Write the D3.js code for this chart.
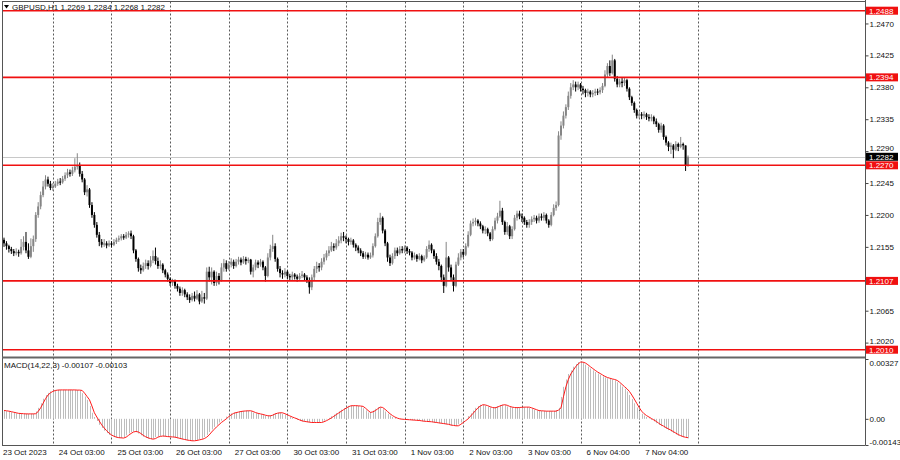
<!DOCTYPE html>
<html><head><meta charset="utf-8">
<script src="https://cdn.jsdelivr.net/npm/d3@7"></script>
<style>
body{margin:0;background:#fff}
svg{display:block}
</style>
</head><body><svg id="c" width="900" height="460"></svg>
<script>
// ---------------- data ----------------
const symbolName = "GBPUSD,H1";
const lastQuote = ["1.2269", "1.2284", "1.2268", "1.2282"];
const macdTitle = "MACD(14,22,3) -0.00107 -0.00103";
const firstOpen = 1.2165;
const closes = [
1.2160,1.2156,1.2152,1.2149,1.2146,1.2148,1.2146,1.2155,1.2162,1.2150,
1.2141,1.2156,1.2166,1.2200,1.2212,1.2228,1.2240,1.2250,1.2244,1.2238,
1.2240,1.2244,1.2247,1.2246,1.2251,1.2256,1.2260,1.2258,1.2263,1.2268,
1.2270,1.2258,1.2250,1.2232,1.2236,1.2214,1.2200,1.2186,1.2172,1.2162,
1.2158,1.2160,1.2157,1.2160,1.2158,1.2162,1.2165,1.2167,1.2170,1.2168,
1.2172,1.2174,1.2170,1.2150,1.2138,1.2125,1.2122,1.2128,1.2132,1.2128,
1.2136,1.2142,1.2135,1.2128,1.2130,1.2122,1.2116,1.2110,1.2104,1.2107,
1.2100,1.2096,1.2090,1.2094,1.2088,1.2084,1.2080,1.2086,1.2082,1.2088,
1.2078,1.2084,1.2082,1.2120,1.2112,1.2120,1.2104,1.2114,1.2108,1.2126,
1.2132,1.2124,1.2130,1.2134,1.2128,1.2134,1.2137,1.2133,1.2138,1.2135,
1.2137,1.2120,1.2126,1.2133,1.2130,1.2134,1.2126,1.2114,1.2140,1.2152,
1.2156,1.2138,1.2124,1.2118,1.2116,1.2120,1.2114,1.2112,1.2116,1.2113,
1.2110,1.2114,1.2116,1.2112,1.2108,1.2098,1.2112,1.2124,1.2128,1.2126,
1.2134,1.2140,1.2146,1.2150,1.2156,1.2154,1.2160,1.2164,1.2170,1.2168,
1.2166,1.2162,1.2164,1.2158,1.2154,1.2150,1.2146,1.2141,1.2144,1.2140,
1.2143,1.2156,1.2170,1.2190,1.2196,1.2178,1.2160,1.2140,1.2132,1.2142,
1.2150,1.2146,1.2152,1.2150,1.2154,1.2149,1.2147,1.2140,1.2143,1.2138,
1.2142,1.2136,1.2140,1.2152,1.2158,1.2150,1.2142,1.2134,1.2128,1.2112,
1.2100,1.2140,1.2126,1.2112,1.2100,1.2130,1.2140,1.2148,1.2144,1.2156,
1.2172,1.2188,1.2190,1.2192,1.2188,1.2184,1.2178,1.2180,1.2174,1.2166,
1.2180,1.2192,1.2198,1.2206,1.2190,1.2176,1.2184,1.2170,1.2180,1.2196,
1.2202,1.2198,1.2196,1.2190,1.2186,1.2190,1.2194,1.2196,1.2192,1.2198,
1.2196,1.2200,1.2192,1.2186,1.2200,1.2210,1.2214,1.2312,1.2326,1.2340,
1.2352,1.2368,1.2380,1.2384,1.2380,1.2384,1.2378,1.2376,1.2372,1.2374,
1.2370,1.2372,1.2374,1.2373,1.2376,1.2382,1.2398,1.2410,1.2400,1.2418,
1.2392,1.2384,1.2388,1.2386,1.2390,1.2378,1.2366,1.2358,1.2348,1.2340,
1.2342,1.2340,1.2342,1.2338,1.2336,1.2338,1.2332,1.2328,1.2320,1.2326,
1.2310,1.2302,1.2296,1.2298,1.2292,1.2300,1.2296,1.2300,1.2298,1.2269,
1.2282];
const highs = [
1.2168,1.2163,1.2158,1.2155,1.2152,1.2153,1.2151,1.2166,1.2170,1.2176,
1.2160,1.2167,1.2171,1.2204,1.2218,1.2233,1.2248,1.2256,1.2254,1.2248,
1.2245,1.2248,1.2251,1.2252,1.2255,1.2260,1.2265,1.2264,1.2268,1.2280,
1.2287,1.2274,1.2262,1.2252,1.2242,1.2238,1.2218,1.2204,1.2190,1.2176,
1.2166,1.2166,1.2163,1.2164,1.2163,1.2166,1.2168,1.2171,1.2173,1.2173,
1.2176,1.2177,1.2178,1.2172,1.2152,1.2140,1.2130,1.2133,1.2137,1.2136,
1.2142,1.2150,1.2154,1.2140,1.2136,1.2132,1.2124,1.2119,1.2112,1.2110,
1.2109,1.2103,1.2099,1.2098,1.2096,1.2091,1.2088,1.2090,1.2092,1.2094,
1.2090,1.2093,1.2090,1.2126,1.2127,1.2126,1.2122,1.2120,1.2118,1.2132,
1.2138,1.2136,1.2135,1.2139,1.2137,1.2138,1.2141,1.2140,1.2142,1.2141,
1.2140,1.2138,1.2130,1.2137,1.2136,1.2138,1.2136,1.2128,1.2146,1.2158,
1.2172,1.2160,1.2140,1.2128,1.2122,1.2125,1.2122,1.2117,1.2120,1.2118,
1.2116,1.2118,1.2121,1.2118,1.2115,1.2112,1.2116,1.2128,1.2134,1.2132,
1.2139,1.2145,1.2150,1.2156,1.2162,1.2160,1.2166,1.2170,1.2175,1.2176,
1.2171,1.2168,1.2168,1.2166,1.2160,1.2157,1.2153,1.2149,1.2148,1.2147,
1.2147,1.2160,1.2174,1.2196,1.2203,1.2198,1.2180,1.2162,1.2144,1.2146,
1.2154,1.2154,1.2156,1.2156,1.2157,1.2156,1.2152,1.2149,1.2147,1.2145,
1.2146,1.2144,1.2143,1.2156,1.2164,1.2160,1.2152,1.2146,1.2138,1.2130,
1.2116,1.2162,1.2142,1.2130,1.2116,1.2134,1.2146,1.2152,1.2152,1.2160,
1.2177,1.2192,1.2195,1.2196,1.2194,1.2191,1.2186,1.2184,1.2182,1.2176,
1.2184,1.2196,1.2203,1.2220,1.2210,1.2192,1.2190,1.2186,1.2184,1.2200,
1.2206,1.2206,1.2202,1.2198,1.2193,1.2194,1.2198,1.2200,1.2199,1.2202,
1.2202,1.2204,1.2202,1.2194,1.2204,1.2215,1.2219,1.2318,1.2332,1.2346,
1.2356,1.2374,1.2386,1.2390,1.2388,1.2388,1.2386,1.2382,1.2378,1.2378,
1.2376,1.2376,1.2378,1.2378,1.2380,1.2386,1.2404,1.2414,1.2418,1.2426,
1.2420,1.2396,1.2392,1.2393,1.2394,1.2392,1.2380,1.2368,1.2360,1.2350,
1.2346,1.2345,1.2346,1.2344,1.2342,1.2342,1.2340,1.2336,1.2330,1.2330,
1.2328,1.2312,1.2304,1.2302,1.2300,1.2304,1.2302,1.2310,1.2302,1.2298,
1.2284];
const lows = [
1.2155,1.2151,1.2147,1.2145,1.2142,1.2143,1.2141,1.2144,1.2150,1.2146,
1.2138,1.2139,1.2148,1.2162,1.2196,1.2208,1.2225,1.2236,1.2240,1.2235,
1.2234,1.2238,1.2241,1.2242,1.2244,1.2248,1.2252,1.2254,1.2255,1.2260,
1.2264,1.2254,1.2246,1.2228,1.2226,1.2210,1.2196,1.2182,1.2168,1.2156,
1.2154,1.2155,1.2153,1.2155,1.2154,1.2156,1.2159,1.2162,1.2164,1.2165,
1.2166,1.2168,1.2166,1.2146,1.2134,1.2120,1.2117,1.2120,1.2124,1.2123,
1.2126,1.2132,1.2130,1.2124,1.2124,1.2118,1.2112,1.2106,1.2100,1.2100,
1.2096,1.2092,1.2086,1.2086,1.2084,1.2080,1.2076,1.2078,1.2078,1.2080,
1.2074,1.2076,1.2075,1.2080,1.2106,1.2102,1.2100,1.2100,1.2102,1.2106,
1.2120,1.2120,1.2122,1.2126,1.2124,1.2126,1.2130,1.2129,1.2131,1.2130,
1.2132,1.2116,1.2112,1.2122,1.2125,1.2127,1.2122,1.2106,1.2112,1.2136,
1.2148,1.2134,1.2120,1.2112,1.2110,1.2112,1.2110,1.2107,1.2108,1.2109,
1.2106,1.2108,1.2111,1.2108,1.2104,1.2089,1.2094,1.2108,1.2118,1.2120,
1.2122,1.2130,1.2136,1.2142,1.2148,1.2149,1.2151,1.2156,1.2160,1.2163,
1.2160,1.2157,1.2158,1.2154,1.2149,1.2146,1.2142,1.2138,1.2138,1.2137,
1.2138,1.2140,1.2154,1.2168,1.2186,1.2174,1.2156,1.2134,1.2128,1.2130,
1.2138,1.2142,1.2144,1.2146,1.2146,1.2145,1.2143,1.2136,1.2137,1.2134,
1.2136,1.2132,1.2134,1.2138,1.2148,1.2146,1.2138,1.2130,1.2122,1.2106,
1.2090,1.2098,1.2120,1.2108,1.2092,1.2098,1.2128,1.2136,1.2140,1.2142,
1.2154,1.2170,1.2184,1.2185,1.2184,1.2180,1.2174,1.2173,1.2170,1.2163,
1.2164,1.2178,1.2188,1.2196,1.2186,1.2172,1.2172,1.2166,1.2166,1.2178,
1.2192,1.2194,1.2190,1.2186,1.2182,1.2182,1.2186,1.2190,1.2188,1.2189,
1.2192,1.2192,1.2188,1.2182,1.2184,1.2198,1.2206,1.2212,1.2306,1.2322,
1.2336,1.2348,1.2364,1.2376,1.2374,1.2376,1.2374,1.2370,1.2366,1.2367,
1.2366,1.2366,1.2368,1.2369,1.2370,1.2372,1.2380,1.2394,1.2396,1.2398,
1.2388,1.2380,1.2380,1.2380,1.2382,1.2374,1.2362,1.2354,1.2344,1.2336,
1.2336,1.2335,1.2336,1.2334,1.2332,1.2332,1.2328,1.2324,1.2316,1.2316,
1.2306,1.2298,1.2290,1.2286,1.2280,1.2290,1.2290,1.2294,1.2292,1.2262,
1.2268];
const macdMain = [
0.00044,0.00042,0.00039,0.00036,0.00033,0.00030,0.00029,0.00028,0.00027,0.00027,
0.00027,0.00027,0.00028,0.00040,0.00060,0.00085,0.00110,0.00130,0.00142,0.00150,
0.00155,0.00157,0.00158,0.00158,0.00158,0.00158,0.00158,0.00158,0.00158,0.00157,
0.00157,0.00155,0.00140,0.00122,0.00104,0.00070,0.00033,0.00010,-0.00012,-0.00033,
-0.00050,-0.00065,-0.00078,-0.00088,-0.00095,-0.00100,-0.00103,-0.00104,-0.00105,-0.00100,
-0.00090,-0.00080,-0.00072,-0.00069,-0.00072,-0.00080,-0.00090,-0.00098,-0.00104,-0.00108,
-0.00111,-0.00108,-0.00100,-0.00096,-0.00094,-0.00095,-0.00097,-0.00098,-0.00099,-0.00100,
-0.00103,-0.00107,-0.00110,-0.00113,-0.00116,-0.00118,-0.00120,-0.00120,-0.00118,-0.00115,
-0.00112,-0.00108,-0.00100,-0.00088,-0.00072,-0.00058,-0.00044,-0.00032,-0.00020,-0.00010,
0.00000,0.00012,0.00022,0.00030,0.00034,0.00037,0.00040,0.00042,0.00043,0.00044,
0.00044,0.00040,0.00034,0.00030,0.00027,0.00024,0.00020,0.00017,0.00016,0.00020,
0.00027,0.00031,0.00033,0.00033,0.00028,0.00022,0.00016,0.00010,0.00005,0.00000,
-0.00006,-0.00011,-0.00014,-0.00016,-0.00018,-0.00020,-0.00020,-0.00020,-0.00020,-0.00020,
-0.00016,-0.00010,-0.00003,0.00005,0.00014,0.00023,0.00032,0.00041,0.00050,0.00058,
0.00066,0.00071,0.00072,0.00072,0.00071,0.00070,0.00068,0.00058,0.00046,0.00035,
0.00038,0.00045,0.00055,0.00064,0.00062,0.00052,0.00040,0.00028,0.00018,0.00010,
0.00004,0.00000,-0.00002,-0.00003,-0.00004,-0.00005,-0.00006,-0.00007,-0.00008,-0.00009,
-0.00011,-0.00013,-0.00014,-0.00015,-0.00016,-0.00018,-0.00020,-0.00022,-0.00024,-0.00026,
-0.00028,-0.00030,-0.00034,-0.00036,-0.00038,-0.00038,-0.00030,-0.00020,-0.00010,0.00000,
0.00015,0.00030,0.00045,0.00060,0.00070,0.00077,0.00076,0.00072,0.00066,0.00062,
0.00060,0.00064,0.00070,0.00075,0.00077,0.00074,0.00068,0.00064,0.00062,0.00061,
0.00062,0.00063,0.00064,0.00064,0.00064,0.00060,0.00055,0.00050,0.00045,0.00044,
0.00043,0.00042,0.00042,0.00042,0.00042,0.00042,0.00048,0.00060,0.00120,0.00175,
0.00215,0.00245,0.00265,0.00285,0.00300,0.00310,0.00310,0.00305,0.00296,0.00285,
0.00275,0.00265,0.00256,0.00248,0.00240,0.00232,0.00226,0.00222,0.00218,0.00215,
0.00210,0.00200,0.00188,0.00176,0.00164,0.00150,0.00130,0.00108,0.00085,0.00062,
0.00042,0.00028,0.00018,0.00010,0.00002,-0.00006,-0.00014,-0.00024,-0.00033,-0.00040,
-0.00048,-0.00055,-0.00062,-0.00070,-0.00078,-0.00086,-0.00092,-0.00097,-0.00101,-0.00104,
-0.00107];
const macdSignal = [
0.00046,0.00044,0.00042,0.00039,0.00036,0.00033,0.00030,0.00029,0.00028,0.00027,
0.00027,0.00027,0.00027,0.00028,0.00040,0.00060,0.00085,0.00110,0.00130,0.00142,
0.00150,0.00155,0.00157,0.00158,0.00158,0.00158,0.00158,0.00158,0.00158,0.00158,
0.00157,0.00157,0.00155,0.00140,0.00122,0.00104,0.00070,0.00033,0.00010,-0.00012,
-0.00033,-0.00050,-0.00065,-0.00078,-0.00088,-0.00095,-0.00100,-0.00103,-0.00104,-0.00105,
-0.00100,-0.00090,-0.00080,-0.00072,-0.00069,-0.00072,-0.00080,-0.00090,-0.00098,-0.00104,
-0.00108,-0.00111,-0.00108,-0.00100,-0.00096,-0.00094,-0.00095,-0.00097,-0.00098,-0.00099,
-0.00100,-0.00103,-0.00107,-0.00110,-0.00113,-0.00116,-0.00118,-0.00120,-0.00120,-0.00118,
-0.00115,-0.00112,-0.00108,-0.00100,-0.00088,-0.00072,-0.00058,-0.00044,-0.00032,-0.00020,
-0.00010,0.00000,0.00012,0.00022,0.00030,0.00034,0.00037,0.00040,0.00042,0.00043,
0.00044,0.00044,0.00040,0.00034,0.00030,0.00027,0.00024,0.00020,0.00017,0.00016,
0.00020,0.00027,0.00031,0.00033,0.00033,0.00028,0.00022,0.00016,0.00010,0.00005,
0.00000,-0.00006,-0.00011,-0.00014,-0.00016,-0.00018,-0.00020,-0.00020,-0.00020,-0.00020,
-0.00020,-0.00016,-0.00010,-0.00003,0.00005,0.00014,0.00023,0.00032,0.00041,0.00050,
0.00058,0.00066,0.00071,0.00072,0.00072,0.00071,0.00070,0.00068,0.00058,0.00046,
0.00035,0.00038,0.00045,0.00055,0.00064,0.00062,0.00052,0.00040,0.00028,0.00018,
0.00010,0.00004,0.00000,-0.00002,-0.00003,-0.00004,-0.00005,-0.00006,-0.00007,-0.00008,
-0.00009,-0.00011,-0.00013,-0.00014,-0.00015,-0.00016,-0.00018,-0.00020,-0.00022,-0.00024,
-0.00026,-0.00028,-0.00030,-0.00034,-0.00036,-0.00038,-0.00038,-0.00030,-0.00020,-0.00010,
0.00000,0.00015,0.00030,0.00045,0.00060,0.00070,0.00077,0.00076,0.00072,0.00066,
0.00062,0.00060,0.00064,0.00070,0.00075,0.00077,0.00074,0.00068,0.00064,0.00062,
0.00061,0.00062,0.00063,0.00064,0.00064,0.00064,0.00060,0.00055,0.00050,0.00045,
0.00044,0.00043,0.00042,0.00042,0.00042,0.00042,0.00042,0.00048,0.00060,0.00120,
0.00175,0.00215,0.00245,0.00265,0.00285,0.00300,0.00310,0.00310,0.00305,0.00296,
0.00285,0.00275,0.00265,0.00256,0.00248,0.00240,0.00232,0.00226,0.00222,0.00218,
0.00215,0.00210,0.00200,0.00188,0.00176,0.00164,0.00150,0.00130,0.00108,0.00085,
0.00062,0.00042,0.00028,0.00018,0.00010,0.00002,-0.00006,-0.00014,-0.00024,-0.00033,
-0.00040,-0.00048,-0.00055,-0.00062,-0.00070,-0.00078,-0.00086,-0.00092,-0.00097,-0.00101,
-0.00103];
const levelPrices = [1.2488, 1.2394, 1.2270, 1.2107, 1.2010];
const bidPrice = 1.2282;
const priceTicks = [1.2470, 1.2425, 1.2380, 1.2335, 1.2290, 1.2245, 1.2200, 1.2155, 1.2110, 1.2065, 1.2020];
const gridBars = [20, 44, 68, 92, 116, 140, 164, 188, 212, 236, 260, 284];
const timeLabels = ["23 Oct 2023", "24 Oct 03:00", "25 Oct 03:00", "26 Oct 03:00", "27 Oct 03:00",
  "30 Oct 03:00", "31 Oct 03:00", "1 Nov 03:00", "2 Nov 03:00", "3 Nov 03:00", "6 Nov 04:00", "7 Nov 04:00"];
const macdTicks = [0.00327, 0, -0.00143];
const macdTickLabels = ["0.00327", "0.00", "-0.00143"];

// ---------------- layout ----------------
const FONT = "'Liberation Sans', Arial, sans-serif";
const L = 2, R = 865, TOP = 1.5, MAIN_B = 356, SUB_T = 359, SUB_B = 445;
const TAG_H = 8;
const svg = d3.select("#c");

const x = d3.scaleLinear().domain([0, 284]).range([4, 697.8]);
const y = d3.scaleLinear().domain([1.2010, 1.2488]).range([349.7, 10.7]);
const ym = d3.scaleLinear().domain([macdTicks[2], macdTicks[0]]).range([SUB_B, SUB_T]);

svg.append("rect").attr("width", 900).attr("height", 460).attr("fill", "#fff");

const defs = svg.append("defs");
defs.append("clipPath").attr("id", "cm").append("rect")
  .attr("x", L).attr("y", TOP).attr("width", R - L).attr("height", MAIN_B - TOP);
defs.append("clipPath").attr("id", "cs").append("rect")
  .attr("x", L).attr("y", SUB_T).attr("width", R - L).attr("height", SUB_B - SUB_T);

// vertical grid
svg.append("g").selectAll("line").data(gridBars).join("line")
  .attr("x1", d => Math.round(x(d)) + 0.5).attr("x2", d => Math.round(x(d)) + 0.5)
  .attr("y1", TOP).attr("y2", SUB_B)
  .attr("stroke", "#5a5a5a").attr("stroke-width", 1).attr("stroke-dasharray", "2,2");

// main pane
const main = svg.append("g").attr("clip-path", "url(#cm)");
main.append("line").attr("x1", L).attr("x2", R)
  .attr("y1", Math.round(y(bidPrice)) + 0.5).attr("y2", Math.round(y(bidPrice)) + 0.5)
  .attr("stroke", "#c8c8c8").attr("stroke-width", 1);

const bars = closes.map((c, i) => {
  const o = i === 0 ? firstOpen : closes[i - 1];
  return {i, o, c, h: Math.max(highs[i], o, c), l: Math.min(lows[i], o, c)};
});
const colorOf = d => d.c >= d.o ? "#858585" : "#000";
main.append("g").selectAll("line").data(bars).join("line")
  .attr("x1", d => x(d.i)).attr("x2", d => x(d.i))
  .attr("y1", d => y(d.h)).attr("y2", d => y(d.l))
  .attr("stroke", colorOf).attr("stroke-width", 1);
main.append("g").selectAll("rect").data(bars).join("rect")
  .attr("x", d => x(d.i) - 1).attr("width", 2)
  .attr("y", d => y(Math.max(d.o, d.c)))
  .attr("height", d => Math.max(1, Math.abs(y(d.o) - y(d.c))))
  .attr("fill", colorOf);

// levels
main.append("g").selectAll("line").data(levelPrices).join("line")
  .attr("x1", L).attr("x2", R).attr("y1", d => y(d)).attr("y2", d => y(d))
  .attr("stroke", "#f01010").attr("stroke-width", 1.6);

// MACD pane
const sub = svg.append("g").attr("clip-path", "url(#cs)");
sub.append("g").selectAll("line").data(macdMain).join("line")
  .attr("x1", (d, i) => Math.round(x(i)) + 0.5).attr("x2", (d, i) => Math.round(x(i)) + 0.5)
  .attr("y1", ym(0)).attr("y2", d => ym(d))
  .attr("stroke", "#bdbdbd").attr("stroke-width", 1);
sub.append("path").datum(macdSignal)
  .attr("d", d3.line().x((d, i) => x(i)).y(d => ym(d)))
  .attr("fill", "none").attr("stroke", "#ff1a1a").attr("stroke-width", 1);

// frame
const frame = svg.append("g").attr("stroke", "#555").attr("fill", "none");
frame.append("line").attr("x1", L).attr("x2", R).attr("y1", TOP).attr("y2", TOP);
frame.append("line").attr("x1", L + 0.5).attr("x2", L + 0.5).attr("y1", TOP).attr("y2", SUB_B);
frame.append("line").attr("x1", R + 0.5).attr("x2", R + 0.5).attr("y1", 0).attr("y2", SUB_B + 0.5);
frame.append("line").attr("x1", L).attr("x2", R).attr("y1", SUB_B + 0.5).attr("y2", SUB_B + 0.5);
frame.append("line").attr("x1", L).attr("x2", R).attr("y1", 357.5).attr("y2", 357.5).attr("stroke-width", 2).attr("stroke", "#666");

// price axis; a label nearly covered by a level tag is left to the tag,
// a label close to a tag is nudged just clear of it
const tagPrices = levelPrices.concat([bidPrice]);
const visibleTicks = priceTicks.filter(p => tagPrices.every(t => Math.abs(y(p) - y(t)) > 4));
const nudge = p => {
  let dy = 0;
  tagPrices.forEach(t => {
    const gap = y(t) - y(p);                       // >0 : tag below the label
    const need = TAG_H / 2 + 5;
    if (gap > 0 && gap < need) dy = Math.min(dy, gap - need);
    if (gap < 0 && -gap < need) dy = Math.max(dy, need + gap);
  });
  return dy;
};
const pa = svg.append("g").attr("transform", `translate(${R + 0.5},0)`)
  .call(d3.axisRight(y).tickValues(visibleTicks).tickFormat(d3.format(".4f")).tickSize(3).tickPadding(1));
pa.select(".domain").remove();
pa.selectAll("line").attr("stroke", "#444");
pa.selectAll("text").attr("font-family", FONT).attr("font-size", 8).attr("fill", "#111")
  .attr("y", d => nudge(d));
svg.append("g").selectAll("line").data(priceTicks.filter(p => !visibleTicks.includes(p))).join("line")
  .attr("x1", R).attr("x2", R + 3).attr("y1", d => y(d)).attr("y2", d => y(d)).attr("stroke", "#444");

// level labels
const lab = svg.append("g");
const tagData = levelPrices.map(p => ({p, bg: "#f01010"})).concat([{p: bidPrice, bg: "#000"}]);
lab.selectAll("rect").data(tagData).join("rect")
  .attr("x", R + 1).attr("width", 32).attr("y", d => y(d.p) - TAG_H / 2).attr("height", TAG_H)
  .attr("fill", d => d.bg);
lab.selectAll("text").data(tagData).join("text")
  .attr("x", R + 4).attr("y", d => y(d.p)).attr("dy", "0.35em")
  .attr("font-family", FONT).attr("font-size", 8).attr("fill", "#fff")
  .text(d => d3.format(".4f")(d.p));

// macd axis
const ma = svg.append("g").attr("transform", `translate(${R + 0.5},0)`)
  .call(d3.axisRight(ym).tickValues(macdTicks).tickFormat((d, i) => macdTickLabels[i]).tickSize(3).tickPadding(1));
ma.select(".domain").remove();
ma.selectAll("line").attr("stroke", "#444");
ma.selectAll("text").attr("font-family", FONT).attr("font-size", 8).attr("fill", "#111");
ma.selectAll(".tick text").attr("dy", (d, i) => i === 0 ? "0.85em" : (i === 2 ? "-0.1em" : "0.32em"));

// time axis
const ta = svg.append("g");
ta.selectAll("text").data(timeLabels).join("text")
  .attr("x", (d, i) => i === 0 ? L + 1 : x(gridBars[i - 1]) + 6)
  .attr("y", 455)
  .attr("font-family", FONT).attr("font-size", 8).attr("fill", "#111")
  .text(d => d);

// headers
svg.append("path").attr("d", "M4,5 L9,5 L6.5,8.5 Z").attr("fill", "#000");
svg.append("text").attr("x", 12).attr("y", 10)
  .attr("font-family", FONT).attr("font-size", 8).attr("fill", "#111")
  .text(symbolName + "  " + lastQuote.join(" "));
svg.append("text").attr("x", 4).attr("y", 368)
  .attr("font-family", FONT).attr("font-size", 8).attr("fill", "#111")
  .text(macdTitle);
</script>
</body></html>
